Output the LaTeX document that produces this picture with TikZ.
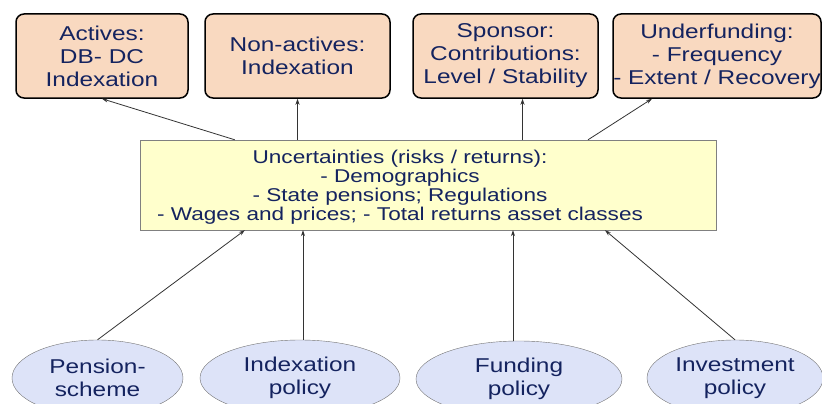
\documentclass[tikz,border=0pt]{standalone}
\usepackage{fontspec}
\setmainfont[FakeStretch=1.22]{Liberation Sans}
\usetikzlibrary{shapes.geometric, arrows.meta, positioning}
\definecolor{textblue}{RGB}{20,35,95}
\definecolor{boxpeach}{RGB}{249,217,192}
\definecolor{ellblue}{RGB}{221,227,248}
\definecolor{uncyellow}{RGB}{255,255,204}

\begin{document}
\begin{tikzpicture}[x=1pt, y=-1pt,
    topbox/.style={draw, line width=1.5pt, rounded corners=8pt, fill=boxpeach, align=center,
        inner sep=0pt, minimum height=84pt, text=textblue, font=\fontsize{20}{23}\selectfont},
    policy/.style={ellipse, draw=black!55, fill=ellblue, align=center, inner sep=0pt,
        minimum height=76pt, text=textblue, font=\fontsize{20}{23}\selectfont},
    arr/.style={-{Stealth[length=6pt, width=4pt]}, draw=black!80, line width=0.8pt}]
    \useasboundingbox (0,0) rectangle (822,404);

    % top boxes
    \node[topbox, minimum width=172pt] (act) at (102,56) {Actives:\\DB- DC\\Indexation};
    \node[topbox, minimum width=185pt] (nonact) at (297.5,56) {Non-actives:\\Indexation};
    \node[topbox, minimum width=185pt] (spons) at (505.5,56) {Sponsor:\\Contributions:\\Level / Stability};
    \node[topbox, minimum width=208pt] (under) at (717,56) {Underfunding:\\- Frequency\\- Extent / Recovery};

    % uncertainties
    \node[draw=black!50, fill=uncyellow, minimum width=576pt, minimum height=90pt] (ubox) at (428,185) {};
    \node[align=center, inner sep=0pt, text=textblue, font=\fontsize{18.5}{19}\selectfont] (unc) at (400,187)
        {Uncertainties (risks / returns):\\- Demographics\\- State pensions; Regulations\\- Wages and prices; - Total returns asset classes};

    % policies
    \node[policy, minimum width=171pt] (pens) at (97.5,378) {Pension-\\scheme};
    \node[policy, minimum width=200pt] (idx) at (300,378) {Indexation\\policy};
    \node[policy, minimum width=206pt] (fund) at (519,379) {Funding\\policy};
    \node[policy, minimum width=176pt] (inv) at (735,378) {Investment\\policy};

    % arrows up
    \draw[arr] ([xshift=95pt]ubox.north west) -- (act.south);
    \draw[arr] (ubox.north -| nonact.south) -- (nonact.south);
    \draw[arr] (ubox.north -| spons.south) ++(17,0) -- ([xshift=17pt]spons.south);
    \draw[arr] ([xshift=160pt]ubox.north) -- ([xshift=-65pt]under.south);

    \draw[arr] (pens.north) -- ([xshift=105pt]ubox.south west);
    \draw[arr] ([xshift=3pt]idx.north) -- ([xshift=3pt]ubox.south -| idx.north);
    \draw[arr] ([xshift=-6pt]fund.north) -- ([xshift=-6pt]ubox.south -| fund.north);
    \draw[arr] (inv.north) -- ([xshift=177pt]ubox.south);
\end{tikzpicture}
\end{document}
